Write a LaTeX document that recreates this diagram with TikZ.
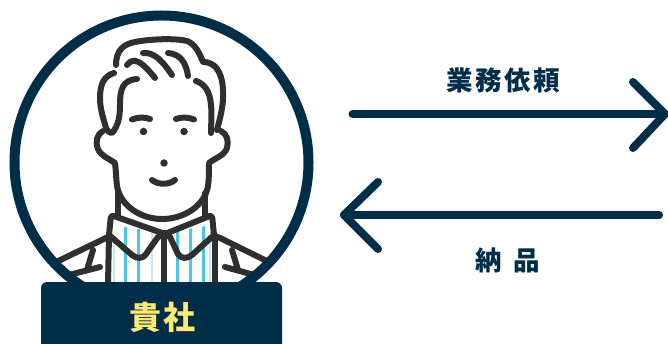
\documentclass[tikz,border=0pt]{standalone}
\usepackage{fontspec}
\newfontfamily\jpfont{Noto Sans CJK JP}[BoldFont={Noto Sans CJK JP Black}]
\definecolor{navy}{HTML}{002D47}
\definecolor{ink}{HTML}{2F2F2F}
\definecolor{skyb}{HTML}{4CC6E8}
\definecolor{skyl}{HTML}{C4E8F3}
\definecolor{gold}{HTML}{FFE873}
\tikzset{
  faceline/.style={draw=ink,line width=6pt,line cap=round,line join=round},
  ring/.style={draw=navy,line width=10pt},
  flow/.style={draw=navy,line width=8pt,line cap=round,line join=round},
  badge/.style={fill=navy,rounded corners=6pt},
  jlabel/.style={text=navy,font=\jpfont\bfseries\fontsize{26.5}{26.5}\selectfont,inner sep=0pt},
  dot/.style={circle,fill=ink,inner sep=0pt,minimum size=7.5pt},
}
\begin{document}
\begin{tikzpicture}[x=1pt,y=-1pt]
\useasboundingbox (0,0) rectangle (668,344);
% shirt stripes
\begin{scope}
\clip (108,232) rectangle (215,284);
\foreach \x in {125,138,190,203,177} \draw[skyb,line width=3pt] (\x,215) -- (\x,284);
\foreach \x in {152,114,210} \draw[skyl,line width=2.5pt] (\x,215) -- (\x,284);
\end{scope}
% body, clipped by the ring
\begin{scope}
\clip (161.5,163) circle (147);
\draw[faceline] (108,237) -- (50,265);
\draw[faceline] (218,237) -- (275,265);
\draw[faceline] (93,250) -- (87,270);
\draw[faceline] (232,250) -- (238,270);
\draw[faceline] (100,267) -- (65,276);
\draw[faceline] (225,267) -- (258,276);
\end{scope}
% collar
\path[fill=white] (111,215) -- (165,233) -- (158,237) -- (145,255) -- (137,258) -- (109,235) -- cycle;
\path[fill=white] (212,215) -- (165,233) -- (170,237) -- (180,255) -- (188,258) -- (213,235) -- cycle;
% stripes over the collar fold
\begin{scope}
\clip (111,225) -- (165,233) -- (212,225) -- (213,235) -- (188,258) -- (180,255) -- (170,237) -- (165,233) -- (158,237) -- (145,255) -- (137,258) -- (109,235) -- cycle;
\foreach \x in {125,138,190,203,177} \draw[skyb,line width=3pt] (\x,215) -- (\x,262);
\foreach \x in {152} \draw[skyl,line width=2.5pt] (\x,215) -- (\x,262);
\end{scope}
\draw[faceline] (118,192) -- (118,217);
\draw[faceline] (205,193) -- (205,217);
\draw[faceline] (109,235) -- (108,284);
\draw[faceline] (215,235) -- (215,284);
\draw[faceline] (164,233) -- (164,284);
\draw[faceline,rounded corners=3pt] (109,235) -- (111,215) -- (165,234) -- (212,215) -- (214,235);
\draw[faceline] (109,235) -- (132,255) .. controls (137,259) and (143,259) .. (146,254) -- (158,237) -- (165,234);
\draw[faceline] (214,235) -- (192,255) .. controls (187,259) and (181,259) .. (178,254) -- (170,237) -- (165,234);
% head
\draw[faceline] (116,65) .. controls (116,50) and (124,44) .. (135,42) .. controls (150,39) and (175,38) .. (187,41) .. controls (195,44) and (199,52) .. (203,62) .. controls (214,62) and (222,70) .. (223,90) .. controls (224,105) and (220,118) .. (217,130);
\draw[faceline] (114,73) .. controls (104,76) and (100,84) .. (100,98) .. controls (100,110) and (104,120) .. (106,128) .. controls (108,132) and (111,134) .. (113,132) .. controls (118,125) and (120,118) .. (120,105) .. controls (120,90) and (122,80) .. (137,79);
\draw[faceline] (196,81) .. controls (205,84) and (210,92) .. (211,105) .. controls (212,115) and (211,125) .. (211,133);
\draw[faceline] (127,65) .. controls (134,56) and (142,62) .. (155,78);
\draw[faceline] (143,53) .. controls (155,52) and (163,62) .. (172,75);
\draw[faceline] (168,53) .. controls (180,54) and (186,62) .. (188,76);
\draw[faceline] (132,119.500) .. controls (138,117) and (145,117) .. (150,119);
\draw[faceline] (176,119) .. controls (181,117) and (188,117) .. (194,119.500);
\draw[faceline] (103,131) .. controls (97,134) and (95,142) .. (98,149) .. controls (101,156) and (108,158) .. (115,163) .. controls (116,170) and (116,178) .. (117,186) .. controls (120,205) and (140,219) .. (162,219) .. controls (185,219) and (205,205) .. (208,186) .. controls (209,178) and (209,170) .. (209,163) .. controls (215,158) and (224,156) .. (227,148) .. controls (229,141) and (227,134) .. (221,131);
\node[dot] (eyeL) at (143.500,131.500) {};
\node[dot] (eyeR) at (184,131.500) {};
\node[dot] (nose) at (164,163) {};
\draw[faceline] (152,180) .. controls (158,185) and (169,185) .. (175,180);
% ring
\begin{scope}
\clip (0,0) rectangle (668,283);
\draw[ring] (161.5,162.5) circle (147);
\end{scope}
\path[badge] (41,282) rectangle (282,360);
\node[inner sep=0pt,text=gold,font=\jpfont\bfseries\fontsize{32}{32}\selectfont] (kisha) at (162.5,317) {貴\hspace{2pt}社};
% arrows
\coordinate (a1s) at (352.500,114);
\coordinate (a1t) at (665,114);
\coordinate (a1u) at (633,82);
\coordinate (a1d) at (633,148);
\coordinate (a2s) at (659,215);
\coordinate (a2t) at (344,215);
\coordinate (a2u) at (378,182);
\coordinate (a2d) at (378,249);
\draw[flow] (a1s) -- (a1t);
\draw[flow] (a1u) -- (a1t) -- (a1d);
\draw[flow] (a2s) -- (a2t);
\draw[flow] (a2u) -- (a2t) -- (a2d);
\node[jlabel] (req) at (503,80) {業\hspace{2.5pt}務\hspace{2.5pt}依\hspace{2.5pt}頼};
\node[jlabel] (del) at (508,260) {納\hspace{12pt}品};
\end{tikzpicture}
\end{document}
